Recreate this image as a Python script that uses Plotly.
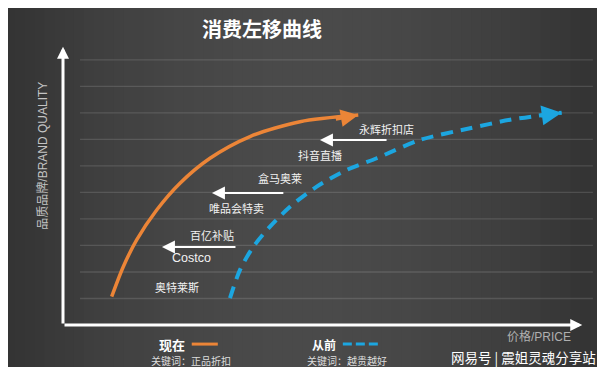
import math
import plotly.graph_objects as go

# ---------------- data ----------------
grid_levels = [1, 2, 3, 4, 5, 6, 7, 8, 9, 10]

now_price = [9.15, 11.33, 13.85, 17.61, 21.99, 27.63, 35.15, 44.55, 55.5]
now_quality = [1.07, 2.20, 3.21, 4.34, 5.35, 6.29, 7.11, 7.67, 7.92]

past_price = [31.39, 33.27, 35.77, 38.91, 42.67, 47.69, 53.33, 58.97, 67.11, 76.50, 84.02, 93.74]
past_quality = [1.01, 2.08, 2.95, 3.71, 4.46, 5.22, 5.85, 6.29, 6.98, 7.42, 7.74, 8.01]

channel_names = ["永辉折扣店", "抖音直播", "盒马奥莱", "唯品会特卖", "百亿补贴", "Costco", "奥特莱斯"]
channel_price = [60.9, 48.3, 40.8, 32.7, 28.0, 24.2, 21.4]
channel_quality = [7.40, 6.42, 5.55, 4.42, 3.40, 2.53, 1.43]

shift_from = [61.1, 41.7, 32.7]
shift_to = [48.3, 28.0, 18.6]
shift_quality = [6.98, 4.98, 2.94]

title_text = "消费左移曲线"
y_title = "品质品牌/BRAND QUALITY"
x_title = "价格/PRICE"
legend_now = "现在"
legend_past = "从前"
keyword_now = "关键词：正品折扣"
keyword_past = "关键词：越贵越好"
watermark = "网易号 | 震姐灵魂分享站"

# ---------------- styling ----------------
ORANGE = "#EC8537"
BLUE = "#1CA6E0"
CJK = "Noto Sans CJK SC"
W, H = 589, 359
ML, MR, MT, MB = 55, 2, 36, 42
XR = [0, 100]
YR = [0, 10.6]


def px(x):
    return (x - XR[0]) / (XR[1] - XR[0])


def py(y):
    return (y - YR[0]) / (YR[1] - YR[0])


fig = go.Figure()

# orange "now" curve
fig.add_trace(go.Scatter(
    x=now_price, y=now_quality, mode="lines",
    line=dict(color=ORANGE, width=3.5, shape="spline", smoothing=0.8),
    hoverinfo="skip", showlegend=False))

# blue dashed "past" curve
fig.add_trace(go.Scatter(
    x=past_price, y=past_quality, mode="lines",
    line=dict(color=BLUE, width=4, shape="spline", smoothing=0.8, dash="12px,8px"),
    hoverinfo="skip", showlegend=False))

shapes = []
# background gradient bands
nb = 60
for i in range(nb):
    t = (i + 0.5) / nb
    v = int(round(52 + 22 * math.sin(math.pi * min(max(t * 1.05 - 0.02, 0), 1)) ** 0.9))
    x0 = -0.11 + (1.12 * i / nb)
    x1 = -0.11 + (1.12 * (i + 1) / nb) + 0.002
    shapes.append(dict(type="rect", xref="paper", yref="paper", x0=x0, x1=x1,
                       y0=-0.3, y1=1.3, line=dict(width=0),
                       fillcolor=f"rgb({v},{v},{v})", layer="below"))

# grid lines
for g in grid_levels:
    shapes.append(dict(type="line", xref="x", yref="y", x0=3.2, x1=99.6, y0=g, y1=g,
                       line=dict(color="rgba(255,255,255,0.13)", width=1.3), layer="below"))

# legend samples
ly = -0.72
shapes.append(dict(type="line", xref="paper", yref="paper",
                   x0=px(24.2), x1=px(29.1), y0=py(ly), y1=py(ly),
                   line=dict(color=ORANGE, width=3)))
shapes.append(dict(type="line", xref="paper", yref="paper",
                   x0=px(52.6), x1=px(59.2), y0=py(ly), y1=py(ly),
                   line=dict(color=BLUE, width=3, dash="9px,4px")))

annotations = []


def arrow(x, y, ax, ay, color, width, head=2, size=1.0):
    annotations.append(dict(x=x, y=y, ax=ax, ay=ay, xref="x", yref="y",
                            axref="x", ayref="y", text="", showarrow=True,
                            arrowhead=head, arrowsize=size, arrowwidth=width,
                            arrowcolor=color, standoff=0, startstandoff=0))


def label(x, y, text, family, size, color, angle=0):
    annotations.append(dict(x=px(x), y=py(y), xref="paper", yref="paper", text=text,
                            xanchor="center", yanchor="middle",
                            showarrow=False, textangle=angle,
                            font=dict(family=family, size=size, color=color)))


# axes with arrows
arrow(0, 10.5, 0, 0, "white", 3, head=2, size=0.8)
arrow(97.6, 0, 0, 0, "white", 3, head=2, size=0.8)

# arrowheads for curves
arrow(now_price[-1], now_quality[-1], 51.0, 7.76, ORANGE, 3.5, head=2, size=1.0)
arrow(past_price[-1], past_quality[-1], 89.5, 7.89, BLUE, 4, head=2, size=1.0)

# leftward shift arrows
for a, b, q in zip(shift_from, shift_to, shift_quality):
    arrow(b, q, a, q, "white", 2, head=2, size=1.3)

# channel labels
for name, xx, yy in zip(channel_names, channel_price, channel_quality):
    fam = "Liberation Sans, Arial" if name.isascii() else CJK
    size = 12.5 if name.isascii() else 11
    label(xx, yy, name, fam, size, "#F2F2F2")

# title
label(37.4, 11.2, f"<b>{title_text}</b>", CJK, 20, "white")
# y axis title
label(-3.8, 6.38, y_title, "Liberation Sans, " + CJK, 12, "#C4C4C4", angle=-90)
# x axis title
label(89.5, -0.45, x_title, "Liberation Sans, " + CJK, 12, "#B0B0B0")
# legend texts
label(20.5, -0.75, f"<b>{legend_now}</b>", CJK, 13, "white")
label(49.1, -0.75, f"<b>{legend_past}</b>", CJK, 12, "white")
# keywords (at the bottom edge)
label(24.0, -1.34, keyword_now, CJK, 10, "#DDDDDD")
label(53.4, -1.34, keyword_past, CJK, 10, "#DDDDDD")
# watermark
label(86.5, -1.21, watermark, CJK, 13.5, "white")

fig.update_layout(
    width=W, height=H, autosize=False,
    margin=dict(l=ML, r=MR, t=MT, b=MB, pad=0),
    paper_bgcolor="#404040", plot_bgcolor="rgba(0,0,0,0)",
    xaxis=dict(range=XR, visible=False, fixedrange=True),
    yaxis=dict(range=YR, visible=False, fixedrange=True),
    shapes=shapes, annotations=annotations, showlegend=False,
    hovermode=False,
)

fig.write_html("out.html", config={"displayModeBar": False, "staticPlot": True})
